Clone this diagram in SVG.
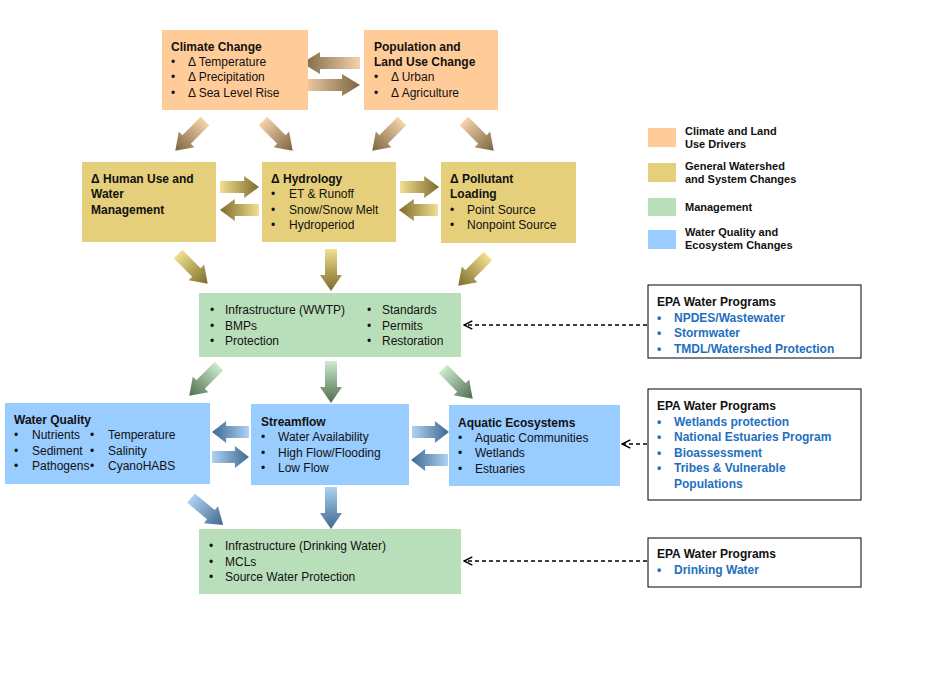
<svg xmlns="http://www.w3.org/2000/svg" width="928" height="696" viewBox="0 0 928 696">
<defs>
<linearGradient id="gO" x1="0" x2="1" y1="0" y2="0"><stop offset="0" stop-color="#F5D2AA"/><stop offset="1" stop-color="#7A6540"/></linearGradient>
<linearGradient id="gT" x1="0" x2="1" y1="0" y2="0"><stop offset="0" stop-color="#F2E08E"/><stop offset="1" stop-color="#7C6A2C"/></linearGradient>
<linearGradient id="gG" x1="0" x2="1" y1="0" y2="0"><stop offset="0" stop-color="#CDEBCD"/><stop offset="1" stop-color="#4E6E4E"/></linearGradient>
<linearGradient id="gB" x1="0" x2="1" y1="0" y2="0"><stop offset="0" stop-color="#AED2F2"/><stop offset="1" stop-color="#3E6890"/></linearGradient>
<path id="ar" d="M0,-6 H40 V-11 L58,0 L40,11 V6 H0 Z"/>
<path id="ad" d="M0,-6 H26 V-11 L42,0 L26,11 V6 H0 Z"/>
<marker id="m" viewBox="0 0 10 10" refX="9" refY="5" markerWidth="8" markerHeight="8" orient="auto"><path d="M9,1 L1,5 L9,9" fill="none" stroke="#000" stroke-width="1.5" transform="rotate(180 5 5)"/></marker>
</defs>
<style>
text{font-family:"Liberation Sans",Arial,sans-serif;font-size:12px;fill:#111}
.b{font-weight:bold}
.k{font-weight:bold;fill:#1F6FC0}
.l{font-size:11px;font-weight:bold}
.o{fill:#FFCC99}.t{fill:#E6CF7A}.g{fill:#B9DFBA}.u{fill:#99CCFF}
.e{fill:#fff;stroke:#000;stroke-width:1}
</style>
<rect width="928" height="696" fill="#fff"/>
<g id="connectors">
<use href="#ar" fill="url(#gO)" transform="translate(360,63) rotate(180)"/>
<use href="#ar" fill="url(#gO)" transform="translate(302,85)"/>
<use href="#ad" fill="url(#gO)" transform="translate(205,121) rotate(135)"/>
<use href="#ad" fill="url(#gO)" transform="translate(263,121) rotate(45)"/>
<use href="#ad" fill="url(#gO)" transform="translate(402,121) rotate(135)"/>
<use href="#ad" fill="url(#gO)" transform="translate(464,121) rotate(45)"/>
<use href="#ad" fill="url(#gT)" transform="translate(220,187) scale(0.93,1)"/>
<use href="#ad" fill="url(#gT)" transform="translate(259,210) rotate(180) scale(0.93,1)"/>
<use href="#ad" fill="url(#gT)" transform="translate(400,187) scale(0.93,1)"/>
<use href="#ad" fill="url(#gT)" transform="translate(438,210) rotate(180) scale(0.93,1)"/>
<use href="#ad" fill="url(#gT)" transform="translate(178,254) rotate(45)"/>
<use href="#ad" fill="url(#gT)" transform="translate(331,249) rotate(90)"/>
<use href="#ad" fill="url(#gT)" transform="translate(488,256) rotate(135)"/>
<use href="#ad" fill="url(#gG)" transform="translate(219,366) rotate(135)"/>
<use href="#ad" fill="url(#gG)" transform="translate(331,361) rotate(90)"/>
<use href="#ad" fill="url(#gG)" transform="translate(443,369) rotate(45)"/>
<use href="#ad" fill="url(#gB)" transform="translate(249,432) rotate(180) scale(0.88,1)"/>
<use href="#ad" fill="url(#gB)" transform="translate(212,457) scale(0.88,1)"/>
<use href="#ad" fill="url(#gB)" transform="translate(412,432) scale(0.88,1)"/>
<use href="#ad" fill="url(#gB)" transform="translate(448,460) rotate(180) scale(0.88,1)"/>
<use href="#ad" fill="url(#gB)" transform="translate(191,498) rotate(40)"/>
<use href="#ad" fill="url(#gB)" transform="translate(331,487) rotate(90)"/>
<g fill="none" stroke="#000" stroke-width="1.3" stroke-dasharray="4,3" marker-end="url(#m)">
<line x1="647" y1="325" x2="464" y2="325"/>
<line x1="647" y1="444" x2="622" y2="444"/>
<line x1="647" y1="561" x2="464" y2="561"/>
</g>
</g>
<g id="climate"><rect class="o" x="162" y="30" width="146" height="80"/>
<text x="171" y="51" class="b">Climate Change</text>
<text x="171" y="66">•</text><text x="188" y="66">Δ Temperature</text>
<text x="171" y="81">•</text><text x="188" y="81">Δ Precipitation</text>
<text x="171" y="97">•</text><text x="188" y="97">Δ Sea Level Rise</text></g>
<g id="population"><rect class="o" x="364" y="30" width="134" height="80"/>
<text x="374" y="51" class="b">Population and</text>
<text x="374" y="66" class="b">Land Use Change</text>
<text x="374" y="81">•</text><text x="391" y="81">Δ Urban</text>
<text x="374" y="97">•</text><text x="391" y="97">Δ Agriculture</text></g>
<g id="human"><rect class="t" x="82" y="162" width="134" height="80"/>
<text x="91" y="183" class="b">Δ Human Use and</text>
<text x="91" y="198" class="b">Water</text>
<text x="91" y="214" class="b">Management</text></g>
<g id="hydrology"><rect class="t" x="262" y="162" width="134" height="80"/>
<text x="271" y="183" class="b">Δ Hydrology</text>
<text x="271" y="198">•</text><text x="289" y="198">ET &amp; Runoff</text>
<text x="271" y="214">•</text><text x="289" y="214">Snow/Snow Melt</text>
<text x="271" y="229">•</text><text x="289" y="229">Hydroperiod</text></g>
<g id="pollutant"><rect class="t" x="441" y="162" width="135" height="81"/>
<text x="450" y="183" class="b">Δ Pollutant</text>
<text x="450" y="198" class="b">Loading</text>
<text x="450" y="214">•</text><text x="467" y="214">Point Source</text>
<text x="450" y="229">•</text><text x="467" y="229">Nonpoint Source</text></g>
<g id="mgmt1"><rect class="g" x="199" y="293" width="262" height="64"/>
<text x="210" y="314">•</text><text x="225" y="314">Infrastructure (WWTP)</text>
<text x="210" y="330">•</text><text x="225" y="330">BMPs</text>
<text x="210" y="345">•</text><text x="225" y="345">Protection</text>
<text x="367" y="314">•</text><text x="382" y="314">Standards</text>
<text x="367" y="330">•</text><text x="382" y="330">Permits</text>
<text x="367" y="345">•</text><text x="382" y="345">Restoration</text></g>
<g id="wq"><rect class="u" x="5" y="403" width="205" height="81"/>
<text x="14" y="424" class="b">Water Quality</text>
<text x="14" y="439">•</text><text x="32" y="439">Nutrients</text>
<text x="14" y="455">•</text><text x="32" y="455">Sediment</text>
<text x="14" y="470">•</text><text x="32" y="470">Pathogens</text>
<text x="90" y="439">•</text><text x="108" y="439">Temperature</text>
<text x="90" y="455">•</text><text x="108" y="455">Salinity</text>
<text x="90" y="470">•</text><text x="108" y="470">CyanoHABS</text></g>
<g id="streamflow"><rect class="u" x="251" y="404" width="158" height="81"/>
<text x="261" y="426" class="b">Streamflow</text>
<text x="261" y="441">•</text><text x="278" y="441">Water Availability</text>
<text x="261" y="457">•</text><text x="278" y="457">High Flow/Flooding</text>
<text x="261" y="472">•</text><text x="278" y="472">Low Flow</text></g>
<g id="aquatic"><rect class="u" x="449" y="405" width="171" height="81"/>
<text x="458" y="427" class="b">Aquatic Ecosystems</text>
<text x="458" y="442">•</text><text x="475" y="442">Aquatic Communities</text>
<text x="458" y="457">•</text><text x="475" y="457">Wetlands</text>
<text x="458" y="473">•</text><text x="475" y="473">Estuaries</text></g>
<g id="mgmt2"><rect class="g" x="199" y="529" width="262" height="65"/>
<text x="209" y="550">•</text><text x="225" y="550">Infrastructure (Drinking Water)</text>
<text x="209" y="566">•</text><text x="225" y="566">MCLs</text>
<text x="209" y="581">•</text><text x="225" y="581">Source Water Protection</text></g>
<g id="legend">
<rect class="o" x="648" y="128" width="28" height="19"/><text x="685" y="135" class="l">Climate and Land</text><text x="685" y="148" class="l">Use Drivers</text>
<rect class="t" x="648" y="163" width="28" height="19"/><text x="685" y="170" class="l">General Watershed</text><text x="685" y="183" class="l">and System Changes</text>
<rect class="g" x="648" y="198" width="28" height="18"/><text x="685" y="211" class="l">Management</text>
<rect class="u" x="648" y="230" width="28" height="19"/><text x="685" y="236" class="l">Water Quality and</text><text x="685" y="249" class="l">Ecosystem Changes</text></g>
<g id="epa1"><rect class="e" x="648" y="285" width="213" height="73"/>
<text x="657" y="306" class="b">EPA Water Programs</text>
<text x="657" y="322" class="k">•</text><text x="674" y="322" class="k">NPDES/Wastewater</text>
<text x="657" y="337" class="k">•</text><text x="674" y="337" class="k">Stormwater</text>
<text x="657" y="353" class="k">•</text><text x="674" y="353" class="k">TMDL/Watershed Protection</text></g>
<g id="epa2"><rect class="e" x="648" y="389" width="213" height="111"/>
<text x="657" y="410" class="b">EPA Water Programs</text>
<text x="657" y="426" class="k">•</text><text x="674" y="426" class="k">Wetlands protection</text>
<text x="657" y="441" class="k">•</text><text x="674" y="441" class="k">National Estuaries Program</text>
<text x="657" y="457" class="k">•</text><text x="674" y="457" class="k">Bioassessment</text>
<text x="657" y="472" class="k">•</text><text x="674" y="472" class="k">Tribes &amp; Vulnerable</text>
<text x="674" y="488" class="k">Populations</text></g>
<g id="epa3"><rect class="e" x="648" y="538" width="213" height="49"/>
<text x="657" y="558" class="b">EPA Water Programs</text>
<text x="657" y="574" class="k">•</text><text x="674" y="574" class="k">Drinking Water</text></g>
</svg>
